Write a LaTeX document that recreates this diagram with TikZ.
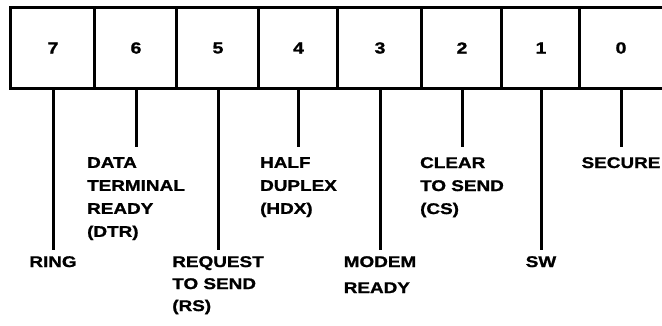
\documentclass[tikz,border=0pt]{standalone}
\usepackage{fontspec}
\newfontfamily\lblfam[FakeStretch=1.22,FakeBold=1.2]{Liberation Sans}
\begin{document}
\begin{tikzpicture}[x=1pt,y=-1pt,
  cell/.style={minimum height=80pt, inner sep=0pt, font=\lblfam\bfseries\fontsize{16}{23}\selectfont},
  lbl/.style={anchor=north, align=left, inner sep=0pt, font=\lblfam\bfseries\fontsize{15.5}{23}\selectfont},
  wire/.style={line width=3pt},
  shortw/.style={wire, shorten >=10pt},
  longw/.style={wire, shorten >=6pt}]
\useasboundingbox (0,0) rectangle (662,325);
\foreach \n/\a/\b in {7/11/95, 6/95/177, 5/177/259, 4/259/338, 3/338/422, 2/422/502, 1/502/580, 0/580/662}
  \node[cell, minimum width={(\b-\a)*1pt}] (c\n) at ({(\a+\b)/2}, 48) {\n};
% box outline
\draw[wire] (c7.north west) -- (c0.north east);
\draw[wire] (c7.south west) -- (c0.south east);
\draw[wire] ([yshift=1.5pt]c7.north west) -- ([yshift=-1.5pt]c7.south west);
\foreach \n in {6,5,4,3,2,1,0}
  \draw[wire] (c\n.north west) -- (c\n.south west);
% labels
\node[lbl] (l7) at (c7.south |- 0,256) {RING};
\node[lbl] (l6) at (c6.south |- 0,157) {DATA\\TERMINAL\\READY\\(DTR)};
\node[lbl] (l5) at (c5.south |- 0,256) {REQUEST\\[-1pt]TO SEND\\[-1pt](RS)};
\node[lbl] (l4) at (c4.south |- 0,157) {HALF\\DUPLEX\\(HDX)};
\node[lbl] (l3) at (c3.south |- 0,256) {MODEM\\[3pt]READY};
\node[lbl] (l2) at (c2.south |- 0,157) {CLEAR\\TO SEND\\(CS)};
\node[lbl] (l1) at (c1.south |- 0,256) {SW};
\node[lbl] (l0) at (c0.south |- 0,157) {SECURE};
% connectors
\foreach \n in {7,5,3,1}
  \draw[longw] (c\n.south) -- (l\n.north);
\foreach \n in {6,4,2,0}
  \draw[shortw] (c\n.south) -- (l\n.north);
\end{tikzpicture}
\end{document}
